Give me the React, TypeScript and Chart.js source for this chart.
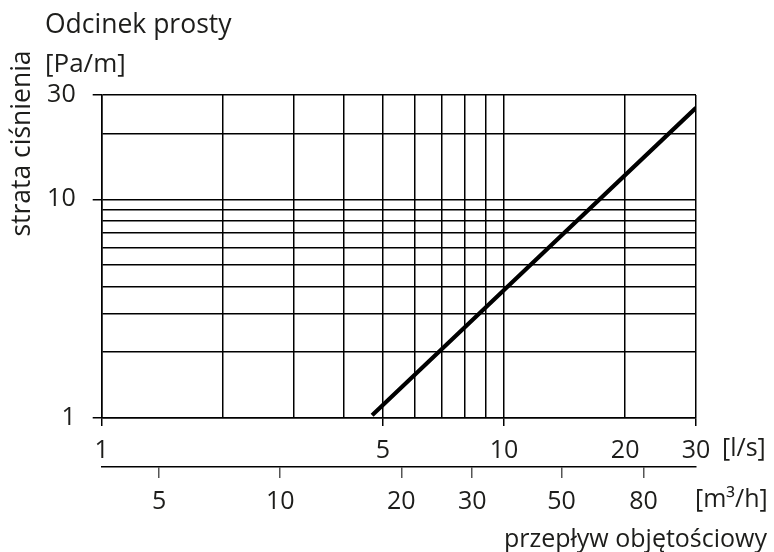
import React, { useEffect, useRef } from 'react';
import { Chart, registerables } from 'chart.js';

Chart.register(...registerables);

// ---- data ----
const FLOW_LS = [4.7, 10, 30];
const PRESSURE_PA_M = [1.03, 3.85, 26.2];

const X_GRID = [1, 2, 3, 4, 5, 6, 7, 8, 9, 10, 20, 30];
const X_LABELS = [1, 5, 10, 20, 30];
const X_TICK_MARKS = [1, 5, 10, 30];
const Y_GRID = [1, 2, 3, 4, 5, 6, 7, 8, 9, 10, 20, 30];
const Y_LABELS = [1, 10, 30];
const M3H_TICKS = [5, 10, 20, 30, 50, 80];
const LS_TO_M3H = 3.6;
const X_MIN = 1;
const X_MAX = 30;
const Y_MIN = 1;
const Y_MAX = 30;

const TITLE = 'Odcinek prosty';
const Y_UNIT = '[Pa/m]';
const Y_TITLE = 'strata ciśnienia';
const X_UNIT = '[l/s]';
const X2_UNIT = '[m³/h]';
const X_TITLE = 'przepływ objętościowy';

const FONT = '"Open Sans", sans-serif';
const FONT_SIZE = 25;
const TITLE_SIZE = 26.5;
const TEXT_COLOR = '#1d1d1b';
const GRID_COLOR = '#000';

const textPlugin = {
  id: 'annotTexts',
  afterDraw(chart: any) {
    const { ctx } = chart;
    ctx.save();
    ctx.fillStyle = TEXT_COLOR;
    ctx.textBaseline = 'alphabetic';
    ctx.textAlign = 'left';
    ctx.font = `${TITLE_SIZE}px ${FONT}`;
    ctx.fillText(TITLE, 45, 33);
    ctx.font = `${FONT_SIZE + 1}px ${FONT}`;
    ctx.fillText(Y_UNIT, 45, 72);
    ctx.font = `${FONT_SIZE}px ${FONT}`;
    ctx.fillText(X_UNIT, 722, 456);
    ctx.fillText(X2_UNIT, 695, 507);
    ctx.textAlign = 'right';
    ctx.fillText(X_TITLE, 767, 547);
    ctx.translate(30, 143.5);
    ctx.rotate(-Math.PI / 2);
    ctx.textAlign = 'center';
    ctx.font = `${TITLE_SIZE}px ${FONT}`;
    ctx.fillText(Y_TITLE, 0, 0);
    ctx.restore();
  },
};

export default function App() {
  const ref = useRef<HTMLCanvasElement | null>(null);

  useEffect(() => {
    if (!ref.current) return;
    const tickFont = { family: FONT, size: FONT_SIZE };
    const chart = new Chart(ref.current, {
      type: 'line',
      data: {
        datasets: [
          {
            data: FLOW_LS.map((x, i) => ({ x, y: PRESSURE_PA_M[i] })),
            borderColor: '#000',
            borderWidth: 4.2,
            pointRadius: 0,
            tension: 0,
            xAxisID: 'x',
            yAxisID: 'y',
          },
        ],
      },
      options: {
        animation: false,
        responsive: false,
        events: [],
        layout: { padding: { left: 0, top: 95, right: 78, bottom: 0 } },
        plugins: { legend: { display: false }, tooltip: { enabled: false } },
        scales: {
          x: {
            type: 'logarithmic',
            position: 'bottom',
            weight: 0,
            min: X_MIN,
            max: X_MAX,
            afterBuildTicks: (s: any) => {
              s.ticks = X_GRID.map((v) => ({ value: v }));
            },
            afterFit: (s: any) => {
              s.height = 49;
            },
            ticks: {
              autoSkip: false,
              maxRotation: 0,
              minRotation: 0,
              padding: 10,
              color: TEXT_COLOR,
              font: tickFont,
              callback: (v: any) => (X_LABELS.includes(Number(v)) ? String(v) : ''),
            },
            grid: {
              color: GRID_COLOR,
              lineWidth: 1.5,
              drawTicks: true,
              tickLength: 8,
              tickWidth: 1.5,
              tickColor: (c: any) =>
                c.tick && X_TICK_MARKS.includes(c.tick.value) ? GRID_COLOR : 'rgba(0,0,0,0)',
            },
            border: { display: true, color: GRID_COLOR, width: 1.5 },
          },
          x2: {
            type: 'logarithmic',
            position: 'bottom',
            weight: 1,
            min: X_MIN * LS_TO_M3H,
            max: X_MAX * LS_TO_M3H,
            afterBuildTicks: (s: any) => {
              s.ticks = M3H_TICKS.map((v) => ({ value: v }));
            },
            afterFit: (s: any) => {
              s.height = 85;
            },
            ticks: {
              autoSkip: false,
              maxRotation: 0,
              minRotation: 0,
              padding: 9,
              color: TEXT_COLOR,
              font: tickFont,
              callback: (v: any) => String(v),
            },
            grid: {
              drawOnChartArea: false,
              drawTicks: true,
              tickLength: 11,
              tickWidth: 1.5,
              tickColor: '#555',
              color: '#555',
              lineWidth: 1.5,
            },
            border: { display: true, color: GRID_COLOR, width: 1.5 },
          },
          y: {
            type: 'logarithmic',
            position: 'left',
            min: Y_MIN,
            max: Y_MAX,
            afterBuildTicks: (s: any) => {
              s.ticks = Y_GRID.map((v) => ({ value: v }));
            },
            afterFit: (s: any) => {
              s.width = 101.7;
            },
            ticks: {
              autoSkip: false,
              padding: 17,
              color: TEXT_COLOR,
              font: tickFont,
              callback: (v: any) => (Y_LABELS.includes(Number(v)) ? String(v) : ''),
            },
            grid: {
              color: GRID_COLOR,
              lineWidth: 1.5,
              drawTicks: true,
              tickLength: 9,
              tickWidth: 1.5,
              tickColor: (c: any) =>
                c.tick && Y_LABELS.includes(c.tick.value) ? GRID_COLOR : 'rgba(0,0,0,0)',
            },
            border: { display: true, color: GRID_COLOR, width: 1.5 },
          },
        },
      } as any,
      plugins: [textPlugin],
    });
    return () => chart.destroy();
  }, []);

  return (
    <div style={{ position: 'fixed', left: 0, top: 0, width: 774, height: 552, background: '#fff' }}>
      <canvas ref={ref} width={774} height={552} style={{ display: 'block', width: 774, height: 552 }} />
    </div>
  );
}
